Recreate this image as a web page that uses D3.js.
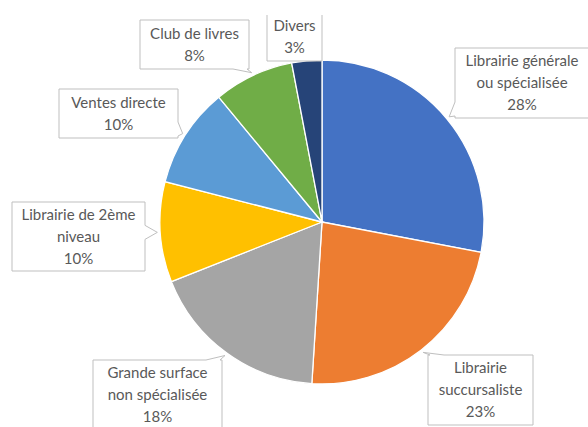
<!DOCTYPE html>
<html>
<head>
<meta charset="utf-8">
<script src="https://cdn.jsdelivr.net/npm/d3@7"></script>
<style>
  body { margin: 0; background: #fff; }
  text { font-family: Lato, "Open Sans", sans-serif; font-size: 15px; fill: #595959; }
</style>
</head>
<body>
<script>
// données
const categories = ["Librairie générale ou spécialisée", "Librairie succursaliste", "Grande surface non spécialisée",
                    "Librairie de 2ème niveau", "Ventes directe", "Club de livres", "Divers"];
const values = [28, 23, 18, 10, 10, 8, 3];
const labelLines = [["Librairie générale", "ou spécialisée"], ["Librairie", "succursaliste"], ["Grande surface", "non spécialisée"],
                    ["Librairie de 2ème", "niveau"], ["Ventes directe"], ["Club de livres"], ["Divers"]];
const colors = ["#4472C4", "#ED7D31", "#A5A5A5", "#FFC000", "#5B9BD5", "#70AD47", "#264478"];

// position des bulles (x, y, largeur, hauteur)
const boxes = [
  [455, 48, 134, 70],
  [428, 355, 105, 70],
  [93, 360, 129, 70],
  [12, 202, 133, 69],
  [59, 89, 119, 49],
  [140, 20, 109, 49],
  [267, 12, 55, 49]
];

const W = 588, H = 427;
const cx = 322, cy = 222, r = 162;

var svg = d3.select("body").append("svg")
  .attr("width", W)
  .attr("height", H);

svg.append("clipPath").attr("id", "clip")
  .append("rect").attr("x", 0).attr("y", 15).attr("width", W).attr("height", H);

var g = svg.append("g").attr("clip-path", "url(#clip)");
var pieG = g.append("g").attr("transform", `translate(${cx},${cy})`);

const pie = d3.pie().sort(null).value(d => d);
const arcs = pie(values);
const arc = d3.arc().innerRadius(0).outerRadius(r);
const total = d3.sum(values);
const fmt = d3.format(".0%");

pieG.selectAll("path")
  .data(arcs)
  .enter()
  .append("path")
  .attr("d", arc)
  .attr("fill", (d, i) => colors[i])
  .attr("stroke", "#fff")
  .attr("stroke-width", 1.3);

// bulle avec pointe vers la part
function calloutPath(b, tip) {
  const [x, y, w, h] = b;
  const x2 = x + w, y2 = y + h, s = 7;
  const cl = (v, a, c) => Math.max(a + s + 2, Math.min(c - s - 2, v));
  let pts = [[x, y]];
  if (tip[1] < y) { const p = cl(tip[0], x, x2); pts.push([p - s, y], tip, [p + s, y]); }
  pts.push([x2, y]);
  if (tip[1] >= y && tip[1] <= y2 && tip[0] > x2) { const p = cl(tip[1], y, y2); pts.push([x2, p - s], tip, [x2, p + s]); }
  pts.push([x2, y2]);
  if (tip[1] > y2) { const p = cl(tip[0], x, x2); pts.push([p + s, y2], tip, [p - s, y2]); }
  pts.push([x, y2]);
  if (tip[1] >= y && tip[1] <= y2 && tip[0] < x) { const p = cl(tip[1], y, y2); pts.push([x, p + s], tip, [x, p - s]); }
  return "M" + pts.map(p => p.join(",")).join("L") + "Z";
}

var labels = g.selectAll("g.lbl")
  .data(arcs)
  .enter()
  .append("g")
  .attr("class", "lbl");

labels.append("path")
  .attr("d", (d, i) => {
    const a = (d.startAngle + d.endAngle) / 2;
    const p = d3.pointRadial(a, r + 3);
    return calloutPath(boxes[i], [cx + p[0], cy + p[1]]);
  })
  .attr("fill", "#fff")
  .attr("stroke", "#BFBFBF")
  .attr("stroke-width", 1);

labels.each(function (d, i) {
  const b = boxes[i];
  const lines = labelLines[i].concat([fmt(d.value / total)]);
  const mid = b[0] + b[2] / 2;
  const top = b[1] + b[3] / 2 - (lines.length - 1) * 11;
  d3.select(this).selectAll("text")
    .data(lines)
    .enter()
    .append("text")
    .attr("x", mid)
    .attr("y", (t, k) => top + k * 22)
    .attr("dy", "0.35em")
    .attr("text-anchor", "middle")
    .text(t => t);
});
</script>
</body>
</html>
